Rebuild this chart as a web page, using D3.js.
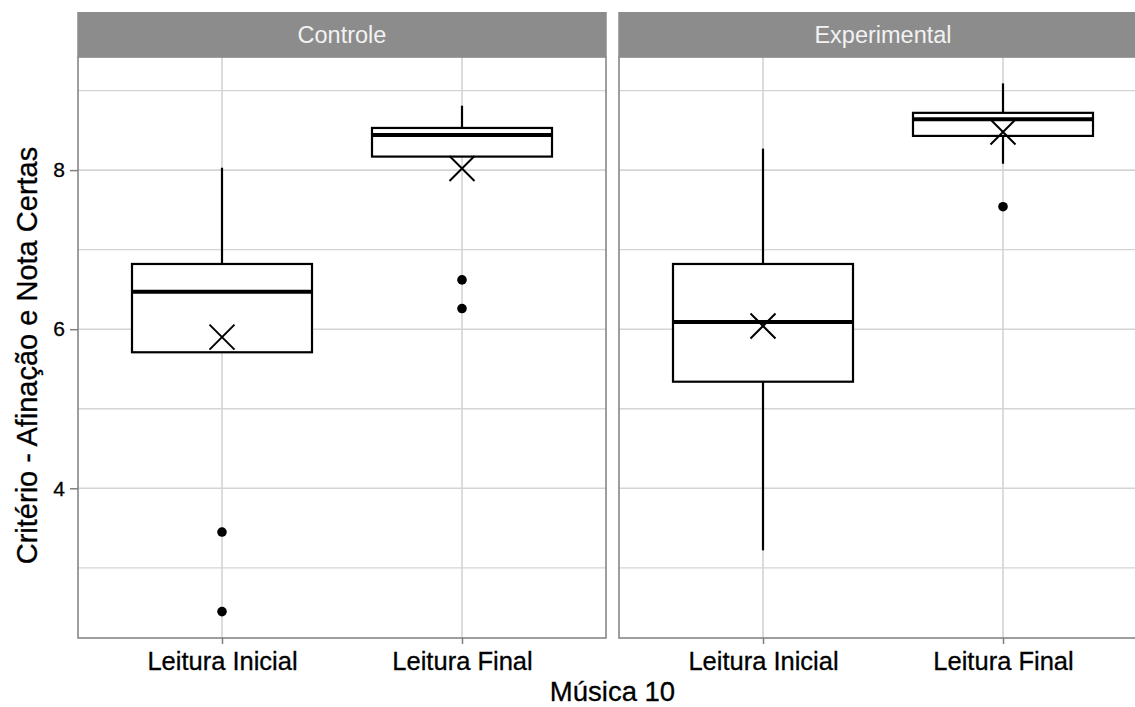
<!DOCTYPE html>
<html>
<head>
<meta charset="utf-8">
<script src="https://cdn.jsdelivr.net/npm/d3@7"></script>
<style>
  html, body { margin: 0; padding: 0; background: #fff; }
  svg { display: block; font-family: "Liberation Sans", Arial, sans-serif; }
</style>
</head>
<body>
<svg id="chart" width="1135" height="707"></svg>
<script>
// Facets and categories
const panels = ["Controle", "Experimental"];
const readings = ["Leitura Inicial", "Leitura Final"];

// Box statistics per panel (rows) and reading (columns)
const whiskerLow  = [[5.71, 8.17], [3.22, 8.08]];
const lowerHinge  = [[5.71, 8.17], [5.34, 8.43]];
const medians     = [[6.47, 8.44], [6.09, 8.64]];
const upperHinge  = [[6.82, 8.53], [6.82, 8.72]];
const whiskerHigh = [[8.03, 8.81], [8.27, 9.09]];
const means       = [[5.90, 8.02], [6.04, 8.48]];
const outliers    = [[[3.45, 2.45], [6.62, 6.26]], [[], [7.54]]];

const yTicks = [4, 6, 8];
const yMinor = [3, 5, 7, 9];
const xTitle = "Música 10";
const yTitle = "Critério - Afinação e Nota Certas";

const svg = d3.select("#chart");

// Layout
const panelTop = 57, panelBottom = 638;
const panelLeft = [78, 619];
const panelWidth = 528;
const stripTop = 12;

// Shared y scale with 5% expansion of the data range
const allVals = [].concat(
  whiskerLow.flat(), whiskerHigh.flat(), outliers.flat(2), means.flat()
);
const yMin = d3.min(allVals), yMax = d3.max(allVals);
const pad = (yMax - yMin) * 0.05;
const y = d3.scaleLinear().domain([yMin - pad, yMax + pad]).range([panelBottom, panelTop]);

const gridColor = "#d4d4d4";
const borderColor = "#7f7f7f";

panels.forEach((name, p) => {
  const x0 = panelLeft[p];
  const x = d3.scalePoint().domain(readings).range([x0, x0 + panelWidth]).padding(0.6);
  const boxW = x.step() * 0.75;

  const g = svg.append("g");

  // grid
  g.selectAll(".minor").data(yMinor).join("line")
    .attr("x1", x0).attr("x2", x0 + panelWidth)
    .attr("y1", d => y(d)).attr("y2", d => y(d))
    .attr("stroke", gridColor).attr("stroke-width", 1.3);
  g.selectAll(".major").data(yTicks).join("line")
    .attr("x1", x0).attr("x2", x0 + panelWidth)
    .attr("y1", d => y(d)).attr("y2", d => y(d))
    .attr("stroke", gridColor).attr("stroke-width", 1.6);
  g.selectAll(".vgrid").data(readings).join("line")
    .attr("x1", d => x(d)).attr("x2", d => x(d))
    .attr("y1", panelTop).attr("y2", panelBottom)
    .attr("stroke", gridColor).attr("stroke-width", 1.6);

  // boxes
  readings.forEach((r, i) => {
    const cx = x(r);
    const bg = g.append("g");
    bg.append("line")
      .attr("x1", cx).attr("x2", cx)
      .attr("y1", y(whiskerHigh[p][i])).attr("y2", y(upperHinge[p][i]))
      .attr("stroke", "#000").attr("stroke-width", 2.2);
    bg.append("line")
      .attr("x1", cx).attr("x2", cx)
      .attr("y1", y(lowerHinge[p][i])).attr("y2", y(whiskerLow[p][i]))
      .attr("stroke", "#000").attr("stroke-width", 2.2);
    bg.append("rect")
      .attr("x", cx - boxW / 2).attr("width", boxW)
      .attr("y", y(upperHinge[p][i]))
      .attr("height", y(lowerHinge[p][i]) - y(upperHinge[p][i]))
      .attr("fill", "#fff").attr("stroke", "#000").attr("stroke-width", 2.2);
    bg.append("line")
      .attr("x1", cx - boxW / 2).attr("x2", cx + boxW / 2)
      .attr("y1", y(medians[p][i])).attr("y2", y(medians[p][i]))
      .attr("stroke", "#000").attr("stroke-width", 4);
    bg.selectAll("circle").data(outliers[p][i]).join("circle")
      .attr("cx", cx).attr("cy", d => y(d)).attr("r", 4.8).attr("fill", "#000");
    // mean marker
    const my = y(means[p][i]), s = 12.5;
    bg.append("path")
      .attr("d", `M${cx - s},${my - s}L${cx + s},${my + s}M${cx - s},${my + s}L${cx + s},${my - s}`)
      .attr("stroke", "#000").attr("stroke-width", 2).attr("fill", "none");
  });

  // panel border
  g.append("rect")
    .attr("x", x0).attr("y", panelTop).attr("width", panelWidth).attr("height", panelBottom - panelTop)
    .attr("fill", "none").attr("stroke", borderColor).attr("stroke-width", 1.5);

  // strip
  g.append("rect")
    .attr("x", x0 - 0.75).attr("y", stripTop).attr("width", panelWidth + 1.5).attr("height", panelTop - stripTop)
    .attr("fill", "#8c8c8c");
  g.append("text")
    .attr("x", x0 + panelWidth / 2).attr("y", (stripTop + panelTop) / 2 + 8)
    .attr("text-anchor", "middle").attr("fill", "#f2f2f2")
    .attr("font-size", 23.5).text(name);

  // x axis
  const xAxis = g.append("g").attr("transform", `translate(0,${panelBottom})`)
    .call(d3.axisBottom(x).tickSize(6).tickPadding(8));
  xAxis.select(".domain").remove();
  xAxis.selectAll(".tick line").attr("stroke", borderColor).attr("stroke-width", 1.5);
  xAxis.selectAll(".tick text").attr("font-size", 25.5).attr("fill", "#000")
    .attr("stroke", "#000").attr("stroke-width", 0.3)
    .attr("font-family", "'Liberation Sans', Arial, sans-serif");

  if (p === 0) {
    const yAxis = g.append("g").attr("transform", `translate(${x0},0)`)
      .call(d3.axisLeft(y).tickValues(yTicks).tickFormat(d3.format("d")).tickSize(8).tickPadding(5));
    yAxis.select(".domain").remove();
    yAxis.selectAll(".tick line").attr("stroke", borderColor).attr("stroke-width", 1.5);
    yAxis.selectAll(".tick text").attr("font-size", 21).attr("fill", "#000")
      .attr("stroke", "#000").attr("stroke-width", 0.3)
      .attr("font-family", "'Liberation Sans', Arial, sans-serif");
  }
});

// axis titles
svg.append("text")
  .attr("x", (panelLeft[0] + panelLeft[1] + panelWidth) / 2).attr("y", 701)
  .attr("text-anchor", "middle").attr("font-size", 27.5).attr("fill", "#000")
  .attr("stroke", "#000").attr("stroke-width", 0.3)
  .text(xTitle);
svg.append("text")
  .attr("transform", `translate(37,${(panelTop + panelBottom) / 2 + 8}) rotate(-90)`)
  .attr("text-anchor", "middle").attr("font-size", 29).attr("fill", "#000")
  .attr("stroke", "#000").attr("stroke-width", 0.3)
  .text(yTitle);
</script>
</body>
</html>
